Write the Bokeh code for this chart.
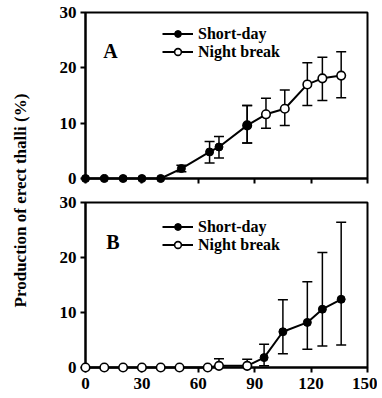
from bokeh.plotting import figure
from bokeh.models import (ColumnDataSource, Whisker, TeeHead, Legend, LegendItem, Label,
                          FixedTicker, Range1d)
from bokeh.layouts import row, column
from bokeh.embed import file_html
from bokeh.resources import INLINE

# ---------------- data ----------------
x_ticks = [0, 30, 60, 90, 120, 150]
y_ticks = [0, 10, 20, 30]
series_names = ["Short-day", "Night break"]
y_label = "Production of erect thalli (%)"

# Panel A
a_sd_x = [0, 10, 20, 30, 40, 51, 66, 71, 86]
a_sd_y = [0, 0, 0, 0, 0, 1.8, 4.8, 5.7, 9.6]
a_sd_lo = [0, 0, 0, 0, 0, 1.2, 2.8, 3.7, 6.4]
a_sd_hi = [0, 0, 0, 0, 0, 2.4, 6.7, 7.6, 13.2]
a_nb_x = [86, 96, 106, 118, 126, 136]
a_nb_y = [9.6, 11.6, 12.6, 17.0, 18.1, 18.6]
a_nb_lo = [6.4, 9.1, 9.6, 13.2, 14.1, 14.6]
a_nb_hi = [13.2, 14.5, 16.0, 20.9, 21.9, 22.9]

# Panel B
b_nb_x = [0, 10, 20, 30, 40, 50, 65, 71, 86]
b_nb_y = [0, 0, 0, 0, 0, 0, 0, 0.3, 0.3]
b_nb_lo = [0, 0, 0, 0, 0, 0, 0, 0.3, 0.3]
b_nb_hi = [0, 0, 0, 0, 0, 0, 0, 1.6, 1.5]
b_sd_x = [86, 95, 105, 118, 126, 136]
b_sd_y = [0.3, 1.8, 6.5, 8.2, 10.6, 12.4]
b_sd_lo = [0.3, 0.3, 2.5, 3.3, 3.9, 4.1]
b_sd_hi = [0.3, 4.25, 12.3, 15.6, 20.9, 26.4]

FONT = "Liberation Serif"


def whisker_src(xs, lo, hi):
    keep = [i for i in range(len(xs)) if hi[i] > lo[i]]
    return ColumnDataSource(dict(x=[xs[i] for i in keep],
                                 lo=[lo[i] for i in keep],
                                 hi=[hi[i] for i in keep]))


def make_panel(letter, letter_xy, sd, nb, sd_on_top, legend_vy, show_xlabels,
               border_top, border_bottom, frame_h):
    p = figure(frame_width=282, frame_height=frame_h,
               x_range=Range1d(0, 150), y_range=Range1d(0, 30),
               output_backend="svg", toolbar_location=None,
               min_border_left=45, min_border_right=10,
               min_border_top=border_top, min_border_bottom=border_bottom,
               outline_line_color="black", outline_line_width=2,
               background_fill_color="white", border_fill_color="white")
    p.grid.visible = False

    xa = p.xaxis[0]
    ya = p.yaxis[0]
    xa.ticker = FixedTicker(ticks=x_ticks)
    ya.ticker = FixedTicker(ticks=y_ticks)
    for ax in (xa, ya):
        ax.axis_line_width = 2
        ax.axis_line_color = "black"
        ax.major_tick_line_width = 2
        ax.major_tick_line_color = "black"
        ax.major_tick_in = 0
        ax.major_tick_out = 5
        ax.minor_tick_line_color = None
        ax.major_label_text_font = FONT
        ax.major_label_text_font_style = "bold"
        ax.major_label_text_font_size = "17px"
        ax.major_label_text_color = "black"
    ya.major_label_standoff = 4
    xa.major_label_standoff = 5
    if not show_xlabels:
        xa.major_label_text_color = None

    sd_x, sd_y, sd_lo, sd_hi = sd
    nb_x, nb_y, nb_lo, nb_hi = nb

    for xs, lo, hi in ((sd_x, sd_lo, sd_hi), (nb_x, nb_lo, nb_hi)):
        w = Whisker(base="x", lower="lo", upper="hi", source=whisker_src(xs, lo, hi),
                    line_color="black", line_width=1.5, level="annotation",
                    upper_head=TeeHead(size=10, line_width=1.5, line_color="black"),
                    lower_head=TeeHead(size=10, line_width=1.5, line_color="black"))
        p.add_layout(w)

    def draw_sd():
        l = p.line(sd_x, sd_y, line_color="black", line_width=2, level="overlay")
        s = p.scatter(sd_x, sd_y, marker="circle", size=8, fill_color="black",
                      line_color="black", line_width=1, level="overlay")
        return l, s

    def draw_nb():
        l = p.line(nb_x, nb_y, line_color="black", line_width=2, level="overlay")
        s = p.scatter(nb_x, nb_y, marker="circle", size=8.5, fill_color="white",
                      line_color="black", line_width=1.6, level="overlay")
        return l, s

    if sd_on_top:
        nb_l, nb_s = draw_nb()
        sd_l, sd_s = draw_sd()
    else:
        sd_l, sd_s = draw_sd()
        nb_l, nb_s = draw_nb()

    legend = Legend(items=[LegendItem(label=series_names[0], renderers=[sd_l, sd_s]),
                           LegendItem(label=series_names[1], renderers=[nb_l, nb_s])],
                    location=(77, legend_vy), orientation="vertical",
                    glyph_width=31, glyph_height=17, label_height=17,
                    label_standoff=5, spacing=0, padding=0, margin=0,
                    border_line_color=None, background_fill_alpha=0,
                    label_text_font=FONT, label_text_font_style="bold",
                    label_text_font_size="16px", label_text_color="black")
    p.add_layout(legend)

    p.add_layout(Label(x=letter_xy[0], y=letter_xy[1], text=letter,
                       text_font=FONT, text_font_style="bold", text_font_size="20px",
                       text_align="left", text_baseline="alphabetic",
                       text_color="black"))
    return p


pa = make_panel("A", (9.5, 23.1),
                (a_sd_x, a_sd_y, a_sd_lo, a_sd_hi),
                (a_nb_x, a_nb_y, a_nb_lo, a_nb_hi),
                True, 117.5, False, 12, 12, 166)
pb = make_panel("B", (11.0, 22.8),
                (b_sd_x, b_sd_y, b_sd_lo, b_sd_hi),
                (b_nb_x, b_nb_y, b_nb_lo, b_nb_hi),
                False, 113.5, True, 12, 0, 165)

lab = figure(width=40, height=390, x_range=(0, 1), y_range=(0, 1),
             x_axis_type=None, y_axis_type=None, min_border=0,
             outline_line_color=None, toolbar_location=None, output_backend="svg",
             background_fill_color="white", border_fill_color="white")
lab.grid.visible = False
lab.add_layout(Label(x=0.5, y=0.487, text=y_label, angle=90, angle_units="deg",
                     text_align="center", text_baseline="middle",
                     text_font=FONT, text_font_style="bold", text_font_size="17px",
                     text_color="black"))

layout = row(lab, column(pa, pb))
open("out.html", "w").write(file_html(layout, INLINE))
